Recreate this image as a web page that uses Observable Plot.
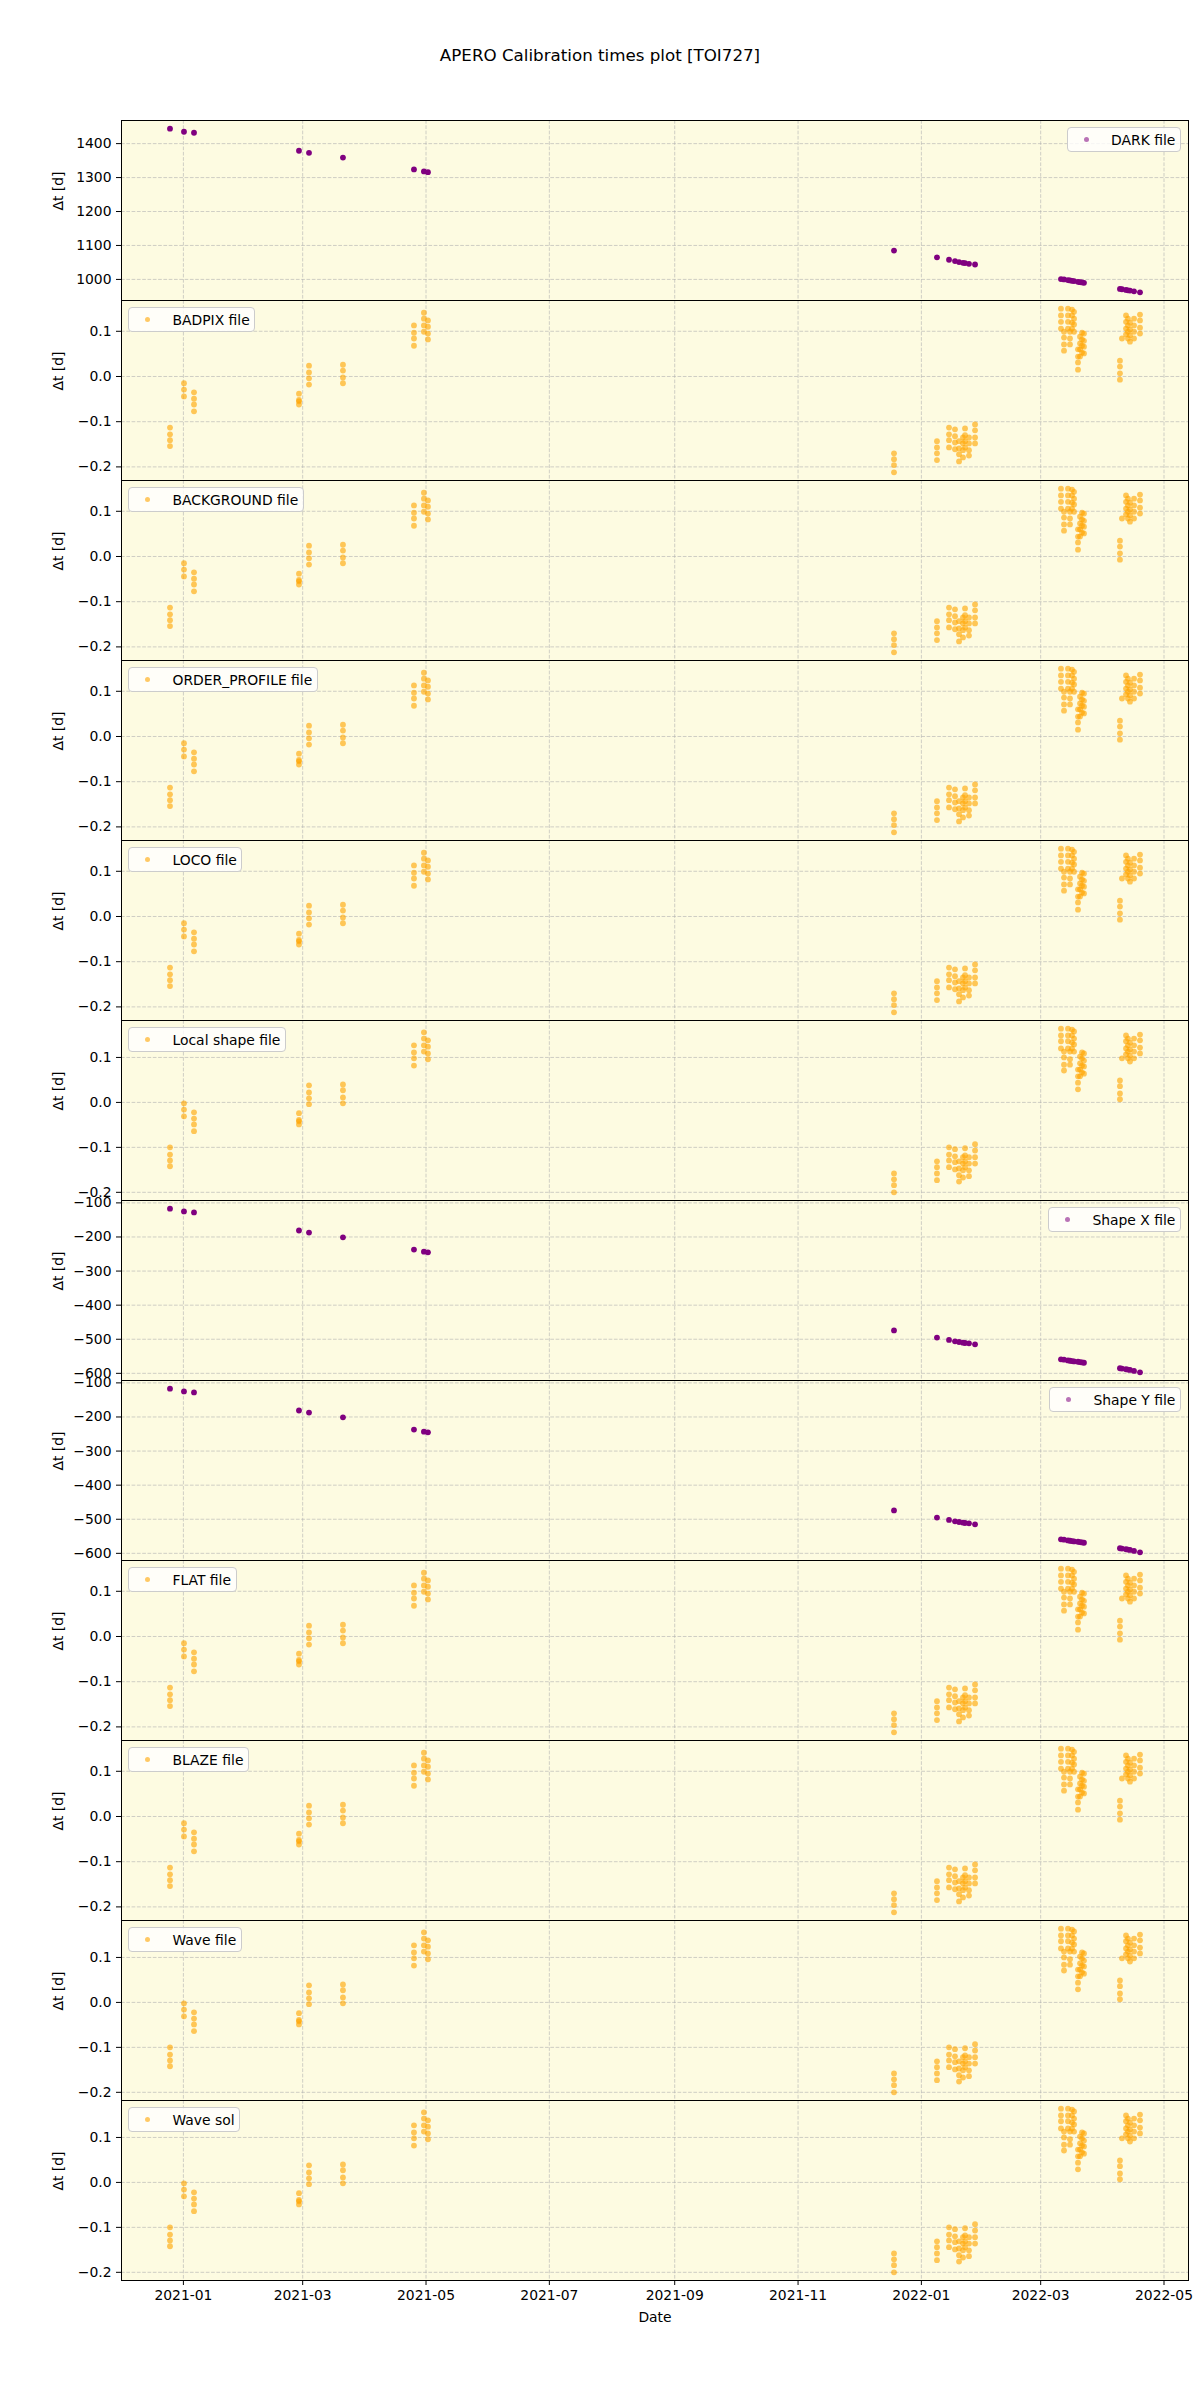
<!DOCTYPE html>
<html>
<head>
<meta charset="utf-8">
<script src="https://cdn.jsdelivr.net/npm/d3@7"></script>
<script src="https://cdn.jsdelivr.net/npm/@observablehq/plot@0.6"></script>
<style>
  body { margin: 0; background: #fff; font-family: "DejaVu Sans", sans-serif; }
  #fig { width: 1200px; position: relative; }
  #title { position: relative; height: 120px; }
  #title div { position: absolute; top: 45px; left: 0; width: 1200px; text-align: center; font-size: 16.7px; color: #000; }
  .panel { position: relative; width: 1200px; }
  .panel svg { display: block; }
  .legend { position: absolute; top: 7px; height: 25px; box-sizing: border-box; border: 1px solid #cccccc; border-radius: 4px;
            background: rgba(255,255,255,0.8); display: flex; align-items: center; padding: 0 4.6px 0 4.6px; font-size: 13.9px; color: #000; white-space: nowrap; }
  .legend .h { width: 27.8px; display: flex; justify-content: center; align-items: center; margin-right: 11.1px; }
  .legend .h i { display: block; width: 5px; height: 5px; border-radius: 50%; }
</style>
</head>
<body>
<div id="fig">
  <div id="title"><div>APERO Calibration times plot [TOI727]</div></div>
  <div id="panels"></div>
</div>
<script>
// ---------------- data ----------------
const xTickLabels = ["2021-01","2021-03","2021-05","2021-07","2021-09","2021-11","2022-01","2022-03","2022-05"];

const obsDates = [
  "2020-12-25T09:00","2021-01-01T07:00","2021-01-06T06:00","2021-02-27T04:00","2021-03-04T03:00",
  "2021-03-20T22:00","2021-04-25T01:00","2021-04-29T23:00","2021-05-01T23:00",
  "2021-12-18T11:00","2022-01-08T17:00","2022-01-14T16:00","2022-01-17T15:00","2022-01-19T15:00",
  "2022-01-21T14:00","2022-01-22T14:00","2022-01-24T13:00","2022-01-27T13:00",
  "2022-03-11T01:00","2022-03-12T13:00","2022-03-14T12:00","2022-03-15T12:00","2022-03-16T12:00",
  "2022-03-17T12:00","2022-03-19T11:00","2022-03-20T11:00","2022-03-21T11:00","2022-03-22T10:00",
  "2022-04-09T05:00","2022-04-10T05:00","2022-04-12T05:00","2022-04-13T04:00","2022-04-14T04:00",
  "2022-04-16T04:00","2022-04-19T03:00"
];

const darkDt = [1444,1435,1432,1379,1373,1359,1324,1318,1316,
  1085,1065,1058,1054,1051,1049,1048,1046,1044,
  1001,1000,998,997,996,995,993,992,991,990,
  972,971,969,968,967,965,962];

const shapeXDt = [-117,-125,-128,-181,-187,-201,-237,-243,-245,
  -474,-495,-502,-506,-508,-510,-511,-512,-515,
  -559,-560,-562,-563,-564,-565,-566,-567,-568,-569,
  -585,-586,-588,-589,-590,-593,-597];

const shapeYDt = [-117,-125,-128,-181,-187,-201,-237,-243,-245,
  -474,-495,-502,-506,-508,-510,-511,-512,-515,
  -559,-560,-562,-563,-564,-565,-566,-567,-568,-569,
  -585,-586,-588,-589,-590,-593,-597];

// per-night exposures (BADPIX / BACKGROUND / ORDER_PROFILE / LOCO / FLAT / BLAZE look alike)
const calibDtA = [
  [-0.113,-0.128,-0.141,-0.154],[-0.015,-0.029,-0.044],[-0.035,-0.049,-0.062,-0.077],
  [-0.038,-0.052,-0.055,-0.062],[0.024,0.009,-0.004,-0.018],[0.026,0.013,-0.002,-0.015],
  [0.113,0.097,0.084,0.068],[0.141,0.128,0.113,0.099],[0.124,0.110,0.095,0.082],
  [-0.170,-0.183,-0.196,-0.212],[-0.143,-0.157,-0.170,-0.185],[-0.113,-0.128,-0.141,-0.157],
  [-0.117,-0.132,-0.146,-0.161],[-0.143,-0.159,-0.172,-0.188],[-0.135,-0.148,-0.163,-0.179],
  [-0.115,-0.130,-0.143,-0.157],[-0.135,-0.148,-0.163,-0.175],[-0.106,-0.119,-0.135,-0.148],
  [0.150,0.135,0.121,0.106],[0.099,0.086,0.071,0.057],[0.150,0.135,0.121,0.106],
  [0.099,0.084,0.071],[0.148,0.135,0.119,0.106],[0.143,0.128,0.115,0.099],
  [0.060,0.044,0.031,0.015],[0.088,0.073,0.060,0.044],[0.097,0.082,0.068,0.053],
  [0.095,0.079,0.066,0.051],
  [0.035,0.022,0.007,-0.007],[0.084],[0.135,0.121,0.106,0.093],[0.128,0.113,0.099,0.084],
  [0.119,0.104,0.091,0.077],[0.128,0.113,0.099,0.084],[0.137,0.124,0.108,0.095]
];

// Local shape / Wave file / Wave sol look alike
const calibDtB = [
  [-0.100,-0.116,-0.129,-0.142],[-0.002,-0.016,-0.031],[-0.022,-0.036,-0.049,-0.064],
  [-0.024,-0.039,-0.042,-0.049],[0.038,0.022,0.009,-0.004],[0.040,0.027,0.011,-0.002],
  [0.127,0.111,0.098,0.082],[0.156,0.142,0.127,0.113],[0.138,0.124,0.109,0.096],
  [-0.158,-0.171,-0.184,-0.200],[-0.131,-0.144,-0.158,-0.173],[-0.100,-0.116,-0.129,-0.144],
  [-0.104,-0.120,-0.133,-0.149],[-0.131,-0.147,-0.162,-0.176],[-0.122,-0.136,-0.151,-0.167],
  [-0.102,-0.118,-0.131,-0.144],[-0.122,-0.136,-0.151,-0.164],[-0.093,-0.107,-0.122,-0.136],
  [0.164,0.149,0.136,0.120],[0.113,0.100,0.084,0.071],[0.164,0.149,0.136,0.120],
  [0.113,0.096,0.084],[0.162,0.149,0.133,0.120],[0.158,0.142,0.129,0.113],
  [0.073,0.058,0.044,0.029],[0.102,0.087,0.073,0.058],[0.111,0.098,0.082,0.067],
  [0.109,0.093,0.080,0.064],
  [0.049,0.036,0.020,0.007],[0.098],[0.149,0.136,0.120,0.107],[0.142,0.127,0.113,0.098],
  [0.133,0.118,0.104,0.091],[0.142,0.127,0.113,0.098],[0.151,0.138,0.122,0.109]
];

const darkTicks = [1000,1100,1200,1300,1400];
const calibTicks = [-0.2,-0.1,0.0,0.1];
const shapeTicks = [-600,-500,-400,-300,-200,-100];

const panelLabels = ["DARK file","BADPIX file","BACKGROUND file","ORDER_PROFILE file","LOCO file","Local shape file",
  "Shape X file","Shape Y file","FLAT file","BLAZE file","Wave file","Wave sol"];

// ---------------- build ----------------
const dates = obsDates.map(s => new Date(s + ":00Z"));
const xTicks = xTickLabels.map(s => new Date(s + "-01T00:00:00Z"));
const [x0, x1] = d3.extent(dates);
const xPad = (x1 - x0) * 0.05;
const xDomain = [new Date(+x0 - xPad), new Date(+x1 + xPad)];

const PURPLE = "#800080", ORANGE = "#ffa500";
const single = (vals) => dates.map((d, i) => ({date: d, dt: vals[i]}));
const multi = (vals) => dates.flatMap((d, i) => vals[i].map(v => ({date: d, dt: v})));

const panels = [
  {rows: single(darkDt), ticks: darkTicks, fmt: d3.format("d"), color: PURPLE, side: "right"},
  {rows: multi(calibDtA), ticks: calibTicks, fmt: d3.format(".1f"), color: ORANGE, side: "left"},
  {rows: multi(calibDtA), ticks: calibTicks, fmt: d3.format(".1f"), color: ORANGE, side: "left"},
  {rows: multi(calibDtA), ticks: calibTicks, fmt: d3.format(".1f"), color: ORANGE, side: "left"},
  {rows: multi(calibDtA), ticks: calibTicks, fmt: d3.format(".1f"), color: ORANGE, side: "left"},
  {rows: multi(calibDtB), ticks: calibTicks, fmt: d3.format(".1f"), color: ORANGE, side: "left"},
  {rows: single(shapeXDt), ticks: shapeTicks, fmt: d3.format("d"), color: PURPLE, side: "right"},
  {rows: single(shapeYDt), ticks: shapeTicks, fmt: d3.format("d"), color: PURPLE, side: "right"},
  {rows: multi(calibDtA), ticks: calibTicks, fmt: d3.format(".1f"), color: ORANGE, side: "left"},
  {rows: multi(calibDtA), ticks: calibTicks, fmt: d3.format(".1f"), color: ORANGE, side: "left"},
  {rows: multi(calibDtB), ticks: calibTicks, fmt: d3.format(".1f"), color: ORANGE, side: "left"},
  {rows: multi(calibDtB), ticks: calibTicks, fmt: d3.format(".1f"), color: ORANGE, side: "left"}
];

const container = document.getElementById("panels");
const gridStyle = {stroke: "#b0b0b0", strokeOpacity: 0.75, strokeWidth: 0.8, strokeDasharray: "3.7,1.6"};
const FS = 13.9;

panels.forEach((p, i) => {
  const last = i === panels.length - 1;
  const [y0, y1] = d3.extent(p.rows, r => r.dt);
  const yPad = (y1 - y0) * 0.05;
  const H = 180;
  const marks = [
    Plot.frame({fill: "#fdfbe1", stroke: null}),
    Plot.gridX(xTicks, gridStyle),
    Plot.gridY(p.ticks, gridStyle),
    Plot.dot(p.rows, {x: "date", y: "dt", r: 2.9, fill: p.color,
      fillOpacity: p.color === PURPLE ? 1 : 0.62, stroke: null}),
    Plot.frame({stroke: "#000", strokeWidth: 1}),
    Plot.axisY(p.ticks, {tickSize: 5, tickPadding: 5, tickFormat: p.fmt, label: null}),
    Plot.text(["Δt [d]"], {text: d => d, frameAnchor: "left", dx: -63, rotate: -90, fontSize: FS})
  ];
  if (last) {
    marks.push(Plot.axisX(xTicks, {tickSize: 5, tickPadding: 5, tickFormat: d3.utcFormat("%Y-%m"), label: null}));
    marks.push(Plot.text(["Date"], {text: d => d, frameAnchor: "bottom", dy: 41, fontSize: FS}));
  }
  const chart = Plot.plot({
    width: 1200,
    height: last ? H + 60 : H,
    marginLeft: 121, marginRight: 12, marginTop: 0, marginBottom: last ? 60 : 0,
    style: {background: "transparent", overflow: "visible", fontSize: FS + "px", fontFamily: "DejaVu Sans", color: "#000"},
    x: {type: "utc", domain: xDomain, axis: null},
    y: {domain: [y0 - yPad, y1 + yPad], axis: null},
    marks
  });
  const div = document.createElement("div");
  div.className = "panel";
  div.style.height = (last ? H + 60 : H) + "px";
  div.appendChild(chart);
  const lg = document.createElement("div");
  lg.className = "legend";
  if (p.side === "left") lg.style.left = (121 + 7) + "px"; else lg.style.right = (12 + 7) + "px";
  const h = document.createElement("span"); h.className = "h";
  const dot = document.createElement("i");
  dot.style.background = p.color === PURPLE ? "rgba(128,0,128,0.55)" : "rgba(255,165,0,0.6)";
  h.appendChild(dot);
  const t = document.createElement("span"); t.textContent = panelLabels[i];
  lg.appendChild(h); lg.appendChild(t);
  div.appendChild(lg);
  container.appendChild(div);
});
</script>
</body>
</html>
